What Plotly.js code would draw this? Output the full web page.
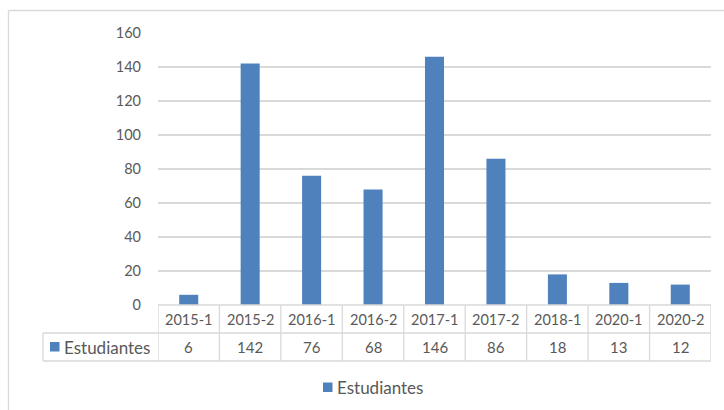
<!DOCTYPE html>
<html>
<head>
<meta charset="utf-8">
<script src="https://cdn.plot.ly/plotly-3.0.1.min.js"></script>
<style>html,body{margin:0;padding:0;background:#fff;}#chart{width:724px;height:410px;}</style>
</head>
<body>
<div id="chart"></div>
<script>
const categories = ['2015-1','2015-2','2016-1','2016-2','2017-1','2017-2','2018-1','2020-1','2020-2'];
const estudiantes = [6, 142, 76, 68, 146, 86, 18, 13, 12];
const seriesName = 'Estudiantes';
const yTicks = [0, 20, 40, 60, 80, 100, 120, 140, 160];

const W = 724, H = 410;
const M = {l: 158, r: 13, t: 33, b: 105};
const plotW = W - M.l - M.r, plotH = H - M.t - M.b;
const px = X => (X - M.l) / plotW;
const py = Y => (H - M.b - Y) / plotH;

const FONT = 'Lato, "Open Sans", sans-serif';
const TXT = '#595959';
const GRID = '#d9d9d9';
const BLUE = '#4F81BD';

const rowTop = 305, rowMid = 333, rowBot = 361;
const shapes = [];
const line = (x0, y0, x1, y1, xref) => shapes.push({type: 'line', xref: xref || 'paper', yref: 'paper', x0, y0, x1, y1, line: {color: GRID, width: 1.3}});
// horizontal table lines
line(px(158), py(rowTop), px(711), py(rowTop));
line(px(43), py(rowMid), px(711), py(rowMid));
line(px(43), py(rowBot), px(711), py(rowBot));
// vertical lines
line(px(43), py(rowMid), px(43), py(rowBot));
for (let i = 0; i <= categories.length; i++) {
  line(i - 0.5, py(rowTop), i - 0.5, py(rowBot), 'x');
}
// header legend key
shapes.push({type: 'rect', xref: 'paper', yref: 'paper', x0: px(50), x1: px(59.5), y0: py(342), y1: py(351.5), fillcolor: BLUE, line: {width: 0}});
// bottom legend key
shapes.push({type: 'rect', xref: 'paper', yref: 'paper', x0: px(323), x1: px(332.5), y0: py(382.5), y1: py(392), fillcolor: BLUE, line: {width: 0}});
// outer chart border
line(px(8.5), py(10.5), px(740), py(10.5));
line(px(8.5), py(10.5), px(8.5), py(430));

const annotations = [];
categories.forEach((c, i) => {
  annotations.push({xref: 'x', yref: 'paper', x: i, y: py((rowTop + rowMid) / 2), text: c, showarrow: false, yanchor: 'middle', font: {family: FONT, size: 14.5, color: TXT}});
  annotations.push({xref: 'x', yref: 'paper', x: i, y: py((rowMid + rowBot) / 2), text: String(estudiantes[i]), showarrow: false, yanchor: 'middle', font: {family: FONT, size: 15, color: TXT}});
});
annotations.push({xref: 'paper', yref: 'paper', x: px(62), y: py((rowMid + rowBot) / 2), text: seriesName, showarrow: false, xanchor: 'left', yanchor: 'middle', font: {family: FONT, size: 17, color: TXT}});
annotations.push({xref: 'paper', yref: 'paper', x: px(335), y: py(387), text: seriesName, showarrow: false, xanchor: 'left', yanchor: 'middle', font: {family: FONT, size: 17, color: TXT}});

const data = [{
  type: 'bar',
  x: categories,
  y: estudiantes,
  name: seriesName,
  marker: {color: BLUE},
  hoverinfo: 'x+y'
}];

const layout = {
  width: W, height: H,
  margin: M,
  paper_bgcolor: '#fff', plot_bgcolor: '#fff',
  bargap: 0.69,
  showlegend: false,
  xaxis: {type: 'category', range: [-0.5, categories.length - 0.5], showticklabels: false, showgrid: false, zeroline: false, showline: false, ticks: ''},
  yaxis: {range: [0, 160], tickvals: yTicks, showgrid: true, gridcolor: GRID, gridwidth: 1.3, zeroline: false, showline: false, ticks: '', ticklabelstandoff: 16, tickfont: {family: FONT, size: 14.5, color: TXT}},
  shapes, annotations
};

Plotly.newPlot('chart', data, layout, {displayModeBar: false, staticPlot: true});
</script>
</body>
</html>
